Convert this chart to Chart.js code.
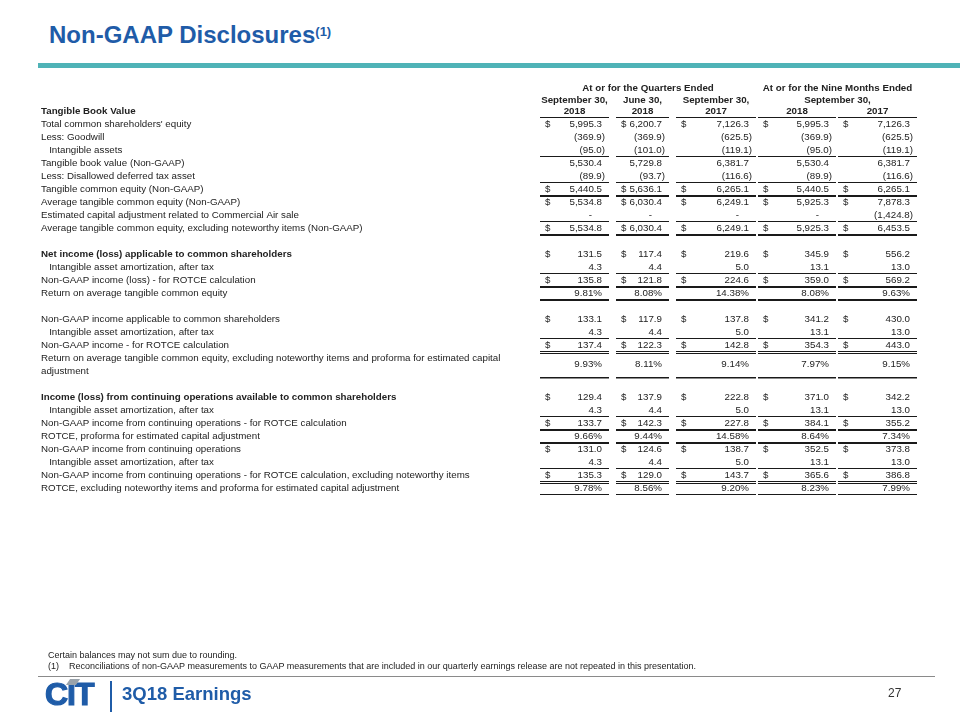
<!DOCTYPE html>
<html>
<head>
<meta charset="utf-8">
<title>Non-GAAP Disclosures</title>
<script src="https://cdn.jsdelivr.net/npm/chart.js@4.4.1/dist/chart.umd.min.js"></script>
<style>
  html, body { margin: 0; padding: 0; background: #fff; }
  body { width: 960px; height: 720px; position: relative; overflow: hidden; font-family: 'Liberation Sans', Arial, sans-serif; }
  #title { position: absolute; left: 49px; top: 23px; font-size: 24px; line-height: 24px; font-weight: bold; color: #1f5ca8; white-space: nowrap; }
  #title sup { font-size: 13px; line-height: 13px; vertical-align: top; position: relative; top: 2px; }
  #rule { position: absolute; left: 38px; top: 63px; width: 922px; height: 5px; background: #4fb3b7; }
  #table { position: absolute; left: 0; top: 0; }
  .note { position: absolute; font-size: 9px; line-height: 11px; color: #222; white-space: nowrap; }
  #footLine { position: absolute; left: 38px; top: 676px; width: 897px; height: 1px; background: #8a8a8a; }
  #logo { position: absolute; left: 45px; top: 678px; font-size: 32px; line-height: 32px; font-weight: bold; color: #1f5ca8; letter-spacing: -1px; -webkit-text-stroke: 1.2px #1f5ca8; }
  #logo i { font-style: normal; color: #1f5ca8; position: relative; }
  #logo i::before { content: ''; position: absolute; left: 1px; top: 3px; width: 10px; height: 6px; background: #9aa3ab; transform: skewX(-35deg); }
  #divider { position: absolute; left: 110px; top: 681px; width: 2px; height: 31px; background: #1f5ca8; }
  #deck { position: absolute; left: 122px; top: 684px; font-size: 18.5px; line-height: 20px; font-weight: bold; color: #1f5ca8; }
  #page { position: absolute; left: 888px; top: 686px; font-size: 12px; line-height: 14px; color: #333; }
</style>
</head>
<body>
<div id="title">Non-GAAP Disclosures<sup>(1)</sup></div>
<div id="rule"></div>
<canvas id="table" width="960" height="720"></canvas>
<div class="note" style="left:48px; top:650px;">Certain balances may not sum due to rounding.</div>
<div class="note" style="left:48px; top:661px;">(1)</div>
<div class="note" style="left:69px; top:661px;">Reconciliations of non-GAAP measurements to GAAP measurements that are included in our quarterly earnings release are not repeated in this presentation.</div>
<div id="footLine"></div>
<div id="logo">C<i>I</i>T</div>
<div id="divider"></div>
<div id="deck">3Q18 Earnings</div>
<div id="page">27</div>
<script>
const rowLabels = [
    'Tangible Book Value',
    "Total common shareholders' equity",
    'Less: Goodwill',
    '   Intangible assets',
    'Tangible book value (Non-GAAP)',
    'Less: Disallowed deferred tax asset',
    'Tangible common equity (Non-GAAP)',
    'Average tangible common equity (Non-GAAP)',
    'Estimated capital adjustment related to Commercial Air sale',
    'Average tangible common equity, excluding noteworthy items (Non-GAAP)',
    '',
    'Net income (loss) applicable to common shareholders',
    '   Intangible asset amortization, after tax',
    'Non-GAAP income (loss) - for ROTCE calculation',
    'Return on average tangible common equity',
    '',
    'Non-GAAP income applicable to common shareholders',
    '   Intangible asset amortization, after tax',
    'Non-GAAP income - for ROTCE calculation',
    ['Return on average tangible common equity, excluding noteworthy items and proforma for estimated capital', 'adjustment'],
    '',
    'Income (loss) from continuing operations available to common shareholders',
    '   Intangible asset amortization, after tax',
    'Non-GAAP income from continuing operations - for ROTCE calculation',
    'ROTCE, proforma for estimated capital adjustment',
    'Non-GAAP income from continuing operations',
    '   Intangible asset amortization, after tax',
    'Non-GAAP income from continuing operations - for ROTCE calculation, excluding noteworthy items',
    'ROTCE, excluding noteworthy items and proforma for estimated capital adjustment'
];

const q3_2018  = [null, 5995.3, -369.9, -95.0, 5530.4, -89.9, 5440.5, 5534.8, 0, 5534.8, null, 131.5, 4.3, 135.8, 9.81, null, 133.1, 4.3, 137.4, 9.93, null, 129.4, 4.3, 133.7, 9.66, 131.0, 4.3, 135.3, 9.78];
const q2_2018  = [null, 6200.7, -369.9, -101.0, 5729.8, -93.7, 5636.1, 6030.4, 0, 6030.4, null, 117.4, 4.4, 121.8, 8.08, null, 117.9, 4.4, 122.3, 8.11, null, 137.9, 4.4, 142.3, 9.44, 124.6, 4.4, 129.0, 8.56];
const q3_2017  = [null, 7126.3, -625.5, -119.1, 6381.7, -116.6, 6265.1, 6249.1, 0, 6249.1, null, 219.6, 5.0, 224.6, 14.38, null, 137.8, 5.0, 142.8, 9.14, null, 222.8, 5.0, 227.8, 14.58, 138.7, 5.0, 143.7, 9.20];
const ytd_2018 = [null, 5995.3, -369.9, -95.0, 5530.4, -89.9, 5440.5, 5925.3, 0, 5925.3, null, 345.9, 13.1, 359.0, 8.08, null, 341.2, 13.1, 354.3, 7.97, null, 371.0, 13.1, 384.1, 8.64, 352.5, 13.1, 365.6, 8.23];
const ytd_2017 = [null, 7126.3, -625.5, -119.1, 6381.7, -116.6, 6265.1, 7878.3, -1424.8, 6453.5, null, 556.2, 13.0, 569.2, 9.63, null, 430.0, 13.0, 443.0, 9.15, null, 342.2, 13.0, 355.2, 7.34, 373.8, 13.0, 386.8, 7.99];

const groupHeaders = ['At or for the Quarters Ended', 'At or for the Nine Months Ended'];
const periodHeaders = ['September 30,', 'June 30,', 'September 30,', 'September 30,'];
const yearHeaders = ['2018', '2018', '2017', '2018', '2017'];

const percentRows = [14, 19, 24, 28];
const dollarRows = [1, 6, 7, 9, 11, 13, 16, 18, 21, 23, 25, 27];
const boldRows = [0, 11, 21];
const rowRules = {
    0: 'thin', 3: 'thin', 5: 'thin', 6: 'thick', 8: 'thin', 9: 'thick',
    12: 'thin', 13: 'thick', 14: 'thick',
    17: 'thin', 18: 'double', 19: 'medium',
    22: 'thin', 23: 'thick', 24: 'thick', 26: 'thin', 27: 'double', 28: 'thin'
};

const series = [q3_2018, q2_2018, q3_2017, ytd_2018, ytd_2017];

// layout
const FONT = "'Liberation Sans', Arial, Helvetica, sans-serif";
const SIZE = 9.75;
const TEXT = '#222';
const LINE = '#1a1a1a';
// column edges in x-scale units, 0 = left edge of first value column
const colLeft = [0, 76, 136, 218, 298];
const colRight = [69, 129, 216, 296, 377];
const groupSpans = [[0, 2], [3, 4]];
const periodSpans = [[0, 0], [1, 1], [2, 2], [3, 4]];

// row slots on the y scale (one slot per text line, header row at -1)
const lineCount = rowLabels.map(l => Array.isArray(l) ? l.length : 1);
const slots = [];
let cursor = -1;
lineCount.forEach(n => { slots.push(cursor + (n - 1) / 2); cursor += n; });

function fmt(v, row) {
    if (percentRows.includes(row)) return v.toFixed(2) + '%';
    if (v === 0) return '-';
    const s = Math.abs(v).toLocaleString('en-US', { minimumFractionDigits: 1, maximumFractionDigits: 1 });
    return v < 0 ? '(' + s + ')' : s;
}

function hline(ctx, x0, x1, yy, w) {
    ctx.lineWidth = w;
    ctx.beginPath();
    ctx.moveTo(x0, yy);
    ctx.lineTo(x1, yy);
    ctx.stroke();
}

const tableCells = {
    id: 'tableCells',
    afterDatasetsDraw(chart) {
        const { ctx, scales: { x, y } } = chart;
        const px = v => x.getPixelForValue(v);
        ctx.save();
        ctx.fillStyle = TEXT;
        ctx.strokeStyle = LINE;
        ctx.textBaseline = 'middle';

        // column headings
        ctx.font = `bold ${SIZE}px ${FONT}`;
        ctx.textAlign = 'center';
        groupHeaders.forEach((t, i) => {
            const [a, b] = groupSpans[i];
            ctx.fillText(t, (px(colLeft[a]) + px(colRight[b])) / 2, y.getPixelForValue(-2.72));
        });
        periodHeaders.forEach((t, i) => {
            const [a, b] = periodSpans[i];
            ctx.fillText(t, (px(colLeft[a]) + px(colRight[b])) / 2, y.getPixelForValue(-1.8));
        });
        yearHeaders.forEach((t, c) => {
            ctx.fillText(t, (px(colLeft[c]) + px(colRight[c])) / 2, y.getPixelForValue(slots[0]));
        });

        // cell values
        ctx.font = `${SIZE}px ${FONT}`;
        chart.data.datasets.forEach((ds, c) => {
            const meta = chart.getDatasetMeta(c);
            meta.data.forEach((pt, j) => {
                const row = ds.data[j].row;
                const v = series[c][row];
                const pct = percentRows.includes(row);
                let right = pt.x;
                if (v === 0 && !pct) right -= 13;
                else if (v > 0) right -= 3;
                ctx.textAlign = 'right';
                ctx.fillText(fmt(v, row), right, pt.y);
                if (dollarRows.includes(row)) {
                    ctx.textAlign = 'left';
                    ctx.fillText('$', px(colLeft[c] + 5), pt.y);
                }
            });
        });

        // underlines
        Object.keys(rowRules).forEach(k => {
            const row = +k;
            const style = rowRules[row];
            const yy = Math.round(y.getPixelForValue(slots[row] + lineCount[row] / 2));
            colLeft.forEach((l, c) => {
                const x0 = px(l), x1 = px(colRight[c]);
                if (style === 'thin') hline(ctx, x0, x1, yy - 0.5, 1);
                else if (style === 'medium') hline(ctx, x0, x1, yy - 0.25, 1.5);
                else if (style === 'thick') hline(ctx, x0, x1, yy, 2);
                else if (style === 'double') { hline(ctx, x0, x1, yy - 0.5, 1); hline(ctx, x0, x1, yy + 1.5, 1); }
            });
        });
        ctx.restore();
    }
};

function tickFont(c) {
    const row = c && c.tick ? slots.indexOf(c.tick.value) : -1;
    return {
        family: FONT,
        size: SIZE,
        weight: boldRows.includes(row) ? 'bold' : 'normal',
        lineHeight: '13px'
    };
}

const ctx = document.getElementById('table').getContext('2d');
const table = new Chart(ctx, {
    type: 'scatter',
    data: {
        datasets: series.map((vals, c) => ({
            label: yearHeaders[c],
            data: vals.map((v, row) => v === null ? null : { x: colRight[c] - 4, y: slots[row], row })
                      .filter(p => p !== null),
            pointRadius: 0,
            showLine: false
        }))
    },
    options: {
        responsive: false,
        animation: false,
        devicePixelRatio: 1,
        events: [],
        layout: { padding: { left: 41, right: 43, top: 78.5, bottom: 225.5 } },
        plugins: { legend: { display: false }, tooltip: { enabled: false } },
        scales: {
            x: { type: 'linear', display: false, min: 0, max: 377 },
            y: {
                type: 'linear',
                reverse: true,
                min: -3.5,
                max: 28.5,
                position: 'left',
                grid: { display: false },
                border: { display: false },
                afterFit: scale => { scale.width = 499; },
                afterBuildTicks: scale => {
                    scale.ticks = slots.filter((s, i) => rowLabels[i] !== '').map(s => ({ value: s }));
                },
                ticks: {
                    autoSkip: false,
                    crossAlign: 'far',
                    padding: 0,
                    color: TEXT,
                    font: tickFont,
                    callback: value => rowLabels[slots.indexOf(value)]
                }
            }
        }
    },
    plugins: [tableCells]
});
</script>
</body>
</html>
